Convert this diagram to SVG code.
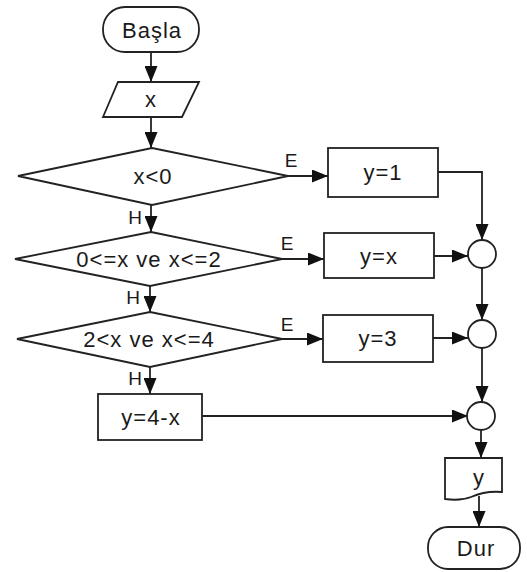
<svg xmlns="http://www.w3.org/2000/svg" width="527" height="572" viewBox="0 0 527 572">
<defs>
<marker id="ah" markerUnits="userSpaceOnUse" markerWidth="17" markerHeight="13" refX="16" refY="6.5" orient="auto">
<path d="M0,0 L16,6.5 L0,13 Z" fill="#111"/>
</marker>
<style>
.s{fill:#fff;stroke:#222;stroke-width:1.8}
.c{fill:none;stroke:#222;stroke-width:1.8}
.a{marker-end:url(#ah)}
text{font-family:"Liberation Sans",Arial,sans-serif;font-size:22px;fill:#1a1a1a;letter-spacing:1px}
.t{text-anchor:middle;dominant-baseline:central}
.l{font-size:19px;letter-spacing:0}
</style>
</defs>
<rect width="527" height="572" fill="#fff"/>
<g id="connectors">
<line class="c a" x1="151" y1="52" x2="151" y2="82"/>
<line class="c a" x1="151" y1="117" x2="151" y2="148"/>
<line class="c a" x1="151" y1="205" x2="151" y2="232"/>
<line class="c a" x1="150" y1="286" x2="150" y2="312"/>
<line class="c a" x1="150" y1="367" x2="150" y2="394"/>
<line class="c a" x1="288" y1="176" x2="328" y2="176"/>
<line class="c a" x1="282" y1="259" x2="324" y2="259"/>
<line class="c a" x1="282" y1="339" x2="323" y2="339"/>
<polyline class="c a" points="438,172 482,172 482,240"/>
<line class="c a" x1="434" y1="256" x2="468" y2="256"/>
<line class="c a" x1="482" y1="268" x2="482" y2="320"/>
<line class="c a" x1="433" y1="338" x2="468" y2="338"/>
<line class="c a" x1="482" y1="348" x2="482" y2="402"/>
<line class="c a" x1="202" y1="416" x2="468" y2="416"/>
<line class="c a" x1="481" y1="430" x2="481" y2="458"/>
<line class="c a" x1="479" y1="496" x2="479" y2="527"/>
<text class="l" x="135" y="224" text-anchor="middle">H</text>
<text class="l" x="133" y="304" text-anchor="middle">H</text>
<text class="l" x="135" y="385" text-anchor="middle">H</text>
<text class="l" x="291" y="167" text-anchor="middle">E</text>
<text class="l" x="287" y="250" text-anchor="middle">E</text>
<text class="l" x="287" y="331" text-anchor="middle">E</text>
</g>
<g id="start">
<rect class="s" x="103" y="7" width="96" height="45" rx="22"/>
<text class="t" x="152" y="30">Başla</text>
</g>
<g id="input">
<polygon class="s" points="118,82 199,82 182,117 103,117"/>
<text class="t" x="151" y="99">x</text>
</g>
<g id="d1">
<polygon class="s" points="152,148 288,176 152,205 18,176"/>
<text class="t" x="153" y="176">x&lt;0</text>
</g>
<g id="d2">
<polygon class="s" points="151,232 282,259 150,286 15,259"/>
<text class="t" x="149" y="259">0&lt;=x ve x&lt;=2</text>
</g>
<g id="d3">
<polygon class="s" points="150,312 282,339 150,367 17,339"/>
<text class="t" x="149" y="339">2&lt;x ve x&lt;=4</text>
</g>
<g id="p1">
<rect class="s" x="328" y="148" width="110" height="49"/>
<text class="t" x="383" y="172">y=1</text>
</g>
<g id="p2">
<rect class="s" x="324" y="233" width="110" height="45"/>
<text class="t" x="379" y="256">y=x</text>
</g>
<g id="p3">
<rect class="s" x="323" y="315" width="110" height="47"/>
<text class="t" x="378" y="338">y=3</text>
</g>
<g id="p4">
<rect class="s" x="98" y="394" width="104" height="46"/>
<text class="t" x="151" y="417">y=4-x</text>
</g>
<g id="j1"><circle class="s" cx="482" cy="254" r="14"/></g>
<g id="j2"><circle class="s" cx="482" cy="334" r="14"/></g>
<g id="j3"><circle class="s" cx="481" cy="416" r="14"/></g>
<g id="output">
<path class="s" d="M445,458 H502 V492 C490,491 480,493 471,497 C461,501 452,500 445,499 Z"/>
<text class="t" x="479" y="477">y</text>
</g>
<g id="end">
<rect class="s" x="428" y="527" width="92" height="42" rx="20"/>
<text class="t" x="476" y="548">Dur</text>
</g>
</svg>
